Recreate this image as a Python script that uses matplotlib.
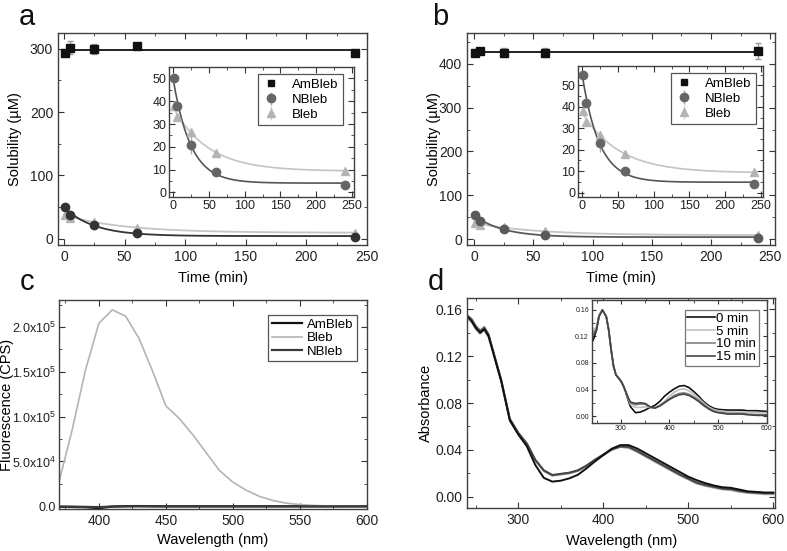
import numpy as np
import matplotlib
matplotlib.use("Agg")
import matplotlib.pyplot as plt
from matplotlib.ticker import MultipleLocator, FixedLocator, FixedFormatter

plt.rcParams['font.family'] = ['Liberation Sans', 'DejaVu Sans']
plt.rcParams['mathtext.default'] = 'regular'
plt.rcParams['axes.edgecolor'] = '#404040'
plt.rcParams['axes.linewidth'] = 1.0

# ---- panel a / b : solubility vs time ----
t = np.array([1, 5, 25, 60, 240])

a_am = np.array([293, 302, 300, 305, 293])
a_am_err = np.array([4, 10, 8, 3, 3])
a_nb = np.array([50, 38, 21, 9, 3.3])
a_nb_err = np.array([1, 1.5, 4, 1.5, 0.5])
a_bl = np.array([38, 33, 26.5, 17.5, 9.5])
a_bl_err = np.array([2, 1, 1.5, 1, 0.5])

b_am = np.array([425, 430, 425, 425, 428])
b_am_err = np.array([5, 3, 10, 10, 18])
b_nb = np.array([55, 42, 23, 10, 4])
b_nb_err = np.array([1, 1, 4, 2, 0.5])
b_bl = np.array([38, 33, 27, 18, 9.5])
b_bl_err = np.array([2, 1, 1.5, 1, 0.5])

# ---- panel c : fluorescence ----
wl_c = np.arange(370, 601, 10)
c_bleb = np.array([2.6e4, 8.5e4, 1.52e5, 2.04e5, 2.19e5, 2.12e5, 1.87e5, 1.51e5,
                   1.12e5, 9.8e4, 8.0e4, 6.0e4, 4.0e4, 2.7e4, 1.8e4, 1.1e4,
                   6.5e3, 3.5e3, 2.0e3, 1.0e3, 500, 200, 100, 0])
c_am = np.array([-500, -700, -1000, -2000, -300, 200, 300, 100, 0, 0, 0, 0,
                 0, 0, 0, 0, 0, 0, 0, 0, 0, 0, 0, 0])
c_nb = np.array([-300, -400, -600, -900, -200, -100, 0, 0, 0, 0, 0, 0,
                 0, 0, 0, 0, 0, 0, 0, 0, 0, 0, 0, 0])

# ---- panel d : absorbance (main) ----
wl_d = np.array([240, 245, 250, 255, 260, 265, 270, 280, 290, 300, 310, 320,
                 330, 340, 350, 360, 370, 380, 390, 400, 410, 420, 430, 440,
                 450, 460, 470, 480, 490, 500, 510, 520, 530, 540, 550, 560,
                 570, 580, 590, 600])
d_base = np.array([0.154, 0.151, 0.145, 0.141, 0.144, 0.138, 0.125, 0.099,
                   0.066, 0.054, 0.045, 0.031, 0.022, 0.018, 0.019, 0.020,
                   0.022, 0.026, 0.031, 0.0355, 0.040, 0.0425, 0.0425, 0.039,
                   0.035, 0.031, 0.027, 0.023, 0.019, 0.0155, 0.012, 0.010,
                   0.0085, 0.007, 0.0065, 0.005, 0.004, 0.0035, 0.003, 0.003])
d_0min = np.array([0.154, 0.150, 0.144, 0.140, 0.143, 0.137, 0.124, 0.098,
                   0.065, 0.053, 0.043, 0.027, 0.016, 0.0128, 0.0136, 0.0156,
                   0.0186, 0.024, 0.030, 0.0355, 0.041, 0.044, 0.044, 0.041,
                   0.037, 0.033, 0.029, 0.025, 0.021, 0.017, 0.014, 0.0115,
                   0.0095, 0.008, 0.0075, 0.006, 0.0045, 0.004, 0.0035, 0.0035])
d_5min = d_base - np.array([0.002] * 6 + [0.0] * 16 + [0.001] * 18)
d_10min = d_base + np.array([0.001] * 6 + [0.0] * 16 + [-0.0005] * 18)
d_15min = d_base + np.array([0.0] * 6 + [0.0005] * 16 + [0.0] * 18)

# ---- panel d : absorbance (inset) ----
wl_i = np.array([240, 245, 250, 255, 262, 270, 275, 280, 285, 290, 300, 305,
                 310, 315, 320, 330, 340, 350, 360, 370, 380, 390, 400, 410,
                 420, 430, 440, 450, 460, 470, 480, 490, 500, 520, 550, 560,
                 580, 600])
i_0min = np.array([0.110, 0.118, 0.130, 0.150, 0.160, 0.150, 0.130, 0.100,
                   0.075, 0.062, 0.053, 0.046, 0.036, 0.024, 0.014, 0.005,
                   0.006, 0.009, 0.013, 0.016, 0.022, 0.030, 0.036, 0.041,
                   0.045, 0.046, 0.043, 0.037, 0.030, 0.022, 0.016, 0.012,
                   0.010, 0.009, 0.009, 0.008, 0.008, 0.007])
i_5min = np.array([0.135, 0.130, 0.135, 0.152, 0.160, 0.150, 0.130, 0.100,
                   0.075, 0.062, 0.053, 0.046, 0.037, 0.026, 0.018, 0.013,
                   0.013, 0.014, 0.013, 0.012, 0.016, 0.022, 0.030, 0.036,
                   0.040, 0.041, 0.038, 0.033, 0.027, 0.020, 0.014, 0.010,
                   0.008, 0.006, 0.006, 0.006, 0.005, 0.005])
i_10min = np.array([0.130, 0.126, 0.132, 0.151, 0.160, 0.150, 0.130, 0.100,
                    0.075, 0.062, 0.053, 0.046, 0.037, 0.027, 0.020, 0.017,
                    0.018, 0.018, 0.013, 0.012, 0.016, 0.021, 0.026, 0.031,
                    0.034, 0.035, 0.033, 0.029, 0.024, 0.018, 0.012, 0.008,
                    0.006, 0.004, 0.004, 0.003, 0.002, 0.002])
i_15min = np.array([0.125, 0.122, 0.130, 0.150, 0.160, 0.150, 0.130, 0.100,
                    0.075, 0.062, 0.053, 0.046, 0.037, 0.028, 0.021, 0.019,
                    0.020, 0.019, 0.014, 0.012, 0.015, 0.020, 0.025, 0.029,
                    0.032, 0.033, 0.031, 0.027, 0.022, 0.016, 0.011, 0.007,
                    0.005, 0.003, 0.003, 0.002, 0.001, 0.001])

BLACK = '#111111'
NB_DARK = '#333333'
NB_MID = '#666666'
BL = '#b4b4b4'
BL_LINE = '#c4c4c4'


def exp_fit(x, y):
    # y = c + a*exp(-x/tau); scan tau, linear least squares for a and c
    best = None
    for tau in np.linspace(3, 150, 1000):
        M = np.column_stack([np.ones_like(x, dtype=float), np.exp(-x / tau)])
        coef, res, *_ = np.linalg.lstsq(M, y, rcond=None)
        r = np.sum((M @ coef - y) ** 2)
        if best is None or r < best[0]:
            best = (r, coef, tau)
    _, (c, a), tau = best
    xx = np.linspace(0, 240, 300)
    return xx, c + a * np.exp(-xx / tau)


def style(ax, size=10):
    ax.tick_params(which='both', direction='in', top=True, right=True,
                   labelsize=size, colors='#333333', labelcolor='#222222')
    ax.tick_params(which='major', length=4)
    ax.tick_params(which='minor', length=2)


def solubility(ax, am, am_err, nb, nb_err, bl, bl_err, nb_col, ylim, ymaj):
    ax.errorbar(t, bl, yerr=bl_err, fmt='^', color=BL, ms=6, ecolor=BL,
                capsize=0, elinewidth=1, zorder=3)
    ax.errorbar(t, nb, yerr=nb_err, fmt='o', color=nb_col, ms=6, ecolor=nb_col,
                capsize=0, elinewidth=1, zorder=4)
    ax.errorbar(t, am, yerr=am_err, fmt='s', color=BLACK, ms=6,
                ecolor='#999999', capsize=2, elinewidth=1, zorder=5)
    xx, yy = exp_fit(t, bl)
    ax.plot(xx, yy, color=BL_LINE, lw=1.3, zorder=2)
    xx, yy = exp_fit(t, nb)
    ax.plot(xx, yy, color=nb_col, lw=1.3, zorder=2)
    ax.plot([0, 240], [am.mean(), am.mean()], color=BLACK, lw=1.3, zorder=2)
    ax.set_ylim(*ylim)
    ax.xaxis.set_major_locator(MultipleLocator(50))
    ax.xaxis.set_minor_locator(MultipleLocator(25))
    ax.yaxis.set_major_locator(MultipleLocator(ymaj))
    ax.yaxis.set_minor_locator(MultipleLocator(ymaj / 2))
    ax.set_xlabel('Time (min)', fontsize=10.5)
    ax.set_ylabel('Solubility (\u00b5M)', fontsize=10.5)
    ax.xaxis.set_label_coords(0.5, -0.122)
    style(ax)


def inset_sol(fig, rect, nb, nb_err, bl, bl_err, ylim, anchor):
    ax = fig.add_axes(rect)
    ax.errorbar(t, bl, yerr=bl_err, fmt='^', color=BL, ms=6, ecolor='#d0d0d0',
                capsize=0, elinewidth=1, zorder=3, label='Bleb')
    ax.errorbar(t, nb, yerr=nb_err, fmt='o', color=NB_MID, ms=6,
                ecolor='#aaaaaa', capsize=0, elinewidth=1, zorder=4,
                label='NBleb')
    xx, yy = exp_fit(t, bl)
    ax.plot(xx, yy, color=BL_LINE, lw=1.2, zorder=2)
    xx, yy = exp_fit(t, nb)
    ax.plot(xx, yy, color='#555555', lw=1.2, zorder=2)
    ax.plot([], [], 's', color=BLACK, ms=5, label='AmBleb')
    ax.set_xlim(-6, 253)
    ax.set_ylim(*ylim)
    ax.xaxis.set_major_locator(MultipleLocator(50))
    ax.xaxis.set_minor_locator(MultipleLocator(25))
    ax.yaxis.set_major_locator(MultipleLocator(10))
    ax.yaxis.set_minor_locator(MultipleLocator(5))
    style(ax, 9)
    ax.tick_params(pad=2)
    h, l = ax.get_legend_handles_labels()
    order = [l.index('AmBleb'), l.index('NBleb'), l.index('Bleb')]
    leg = ax.legend([h[i] for i in order], [l[i] for i in order],
                    loc='upper right', fontsize=9.5, fancybox=False,
                    framealpha=1, edgecolor='#555555', handlelength=1.2,
                    handletextpad=1.0, borderpad=0.35, labelspacing=0.2,
                    borderaxespad=0, bbox_to_anchor=anchor)
    leg.get_frame().set_linewidth(0.9)
    return ax


fig = plt.figure(figsize=(7.87, 5.51), dpi=100)

# panel a
ax_a = fig.add_axes([0.0737, 0.5554, 0.3926, 0.3848])
solubility(ax_a, a_am, a_am_err, a_nb, a_nb_err, a_bl, a_bl_err, NB_DARK,
           (-10, 325), 100)
ax_a.set_xlim(-5, 250)
ax_a.yaxis.set_label_coords(-0.118, 0.5)
inset_sol(fig, [0.2147, 0.6425, 0.2351, 0.2359], a_nb, a_nb_err, a_bl,
          a_bl_err, (-2, 55), (0.94, 0.946))

# panel b
ax_b = fig.add_axes([0.5934, 0.5554, 0.3914, 0.3848])
solubility(ax_b, b_am, b_am_err, b_nb, b_nb_err, b_bl, b_bl_err, '#5a5a5a',
           (-13, 470), 100)
ax_b.set_xlim(-6, 254)
ax_b.yaxis.set_label_coords(-0.086, 0.5)
inset_sol(fig, [0.7344, 0.6425, 0.2351, 0.2377], b_nb, b_nb_err, b_bl,
          b_bl_err, (-2, 59), (0.962, 0.947))

# panel c
ax_c = fig.add_axes([0.0746, 0.0762, 0.3914, 0.3793])
ax_c.plot(wl_c, c_am, color=BLACK, lw=1.6, label='AmBleb')
ax_c.plot(wl_c, c_bleb, color=BL, lw=1.2, label='Bleb')
ax_c.plot(wl_c, c_nb, color='#3a3a3a', lw=1.6, label='NBleb')
ax_c.set_xlim(370, 600)
ax_c.set_ylim(-3000, 2.3e5)
ax_c.xaxis.set_major_locator(MultipleLocator(50))
ax_c.xaxis.set_minor_locator(MultipleLocator(25))
c_ticks = [0, 5e4, 1e5, 1.5e5, 2e5]
c_labels = ['0.0', r'5.0x10$^{4}$', r'1.0x10$^{5}$', r'1.5x10$^{5}$',
            r'2.0x10$^{5}$']
ax_c.yaxis.set_major_locator(FixedLocator(c_ticks))
ax_c.yaxis.set_major_formatter(FixedFormatter(c_labels))
ax_c.yaxis.set_minor_locator(MultipleLocator(2.5e4))
ax_c.set_xlabel('Wavelength (nm)', fontsize=10.5)
ax_c.set_ylabel('Fluorescence (CPS)', fontsize=10.5)
ax_c.xaxis.set_label_coords(0.5, -0.115)
ax_c.yaxis.set_label_coords(-0.145, 0.5)
style(ax_c, 10)
ax_c.tick_params(axis='y', pad=2, labelsize=9)
leg = ax_c.legend(loc='upper right', fontsize=9.5, fancybox=False,
                  framealpha=1, edgecolor='#555555', handlelength=2.3,
                  handletextpad=0.4, borderpad=0.25, labelspacing=0.1,
                  borderaxespad=0, bbox_to_anchor=(0.968, 0.928))
leg.get_frame().set_linewidth(0.9)

# panel d
d_cols = ['#111111', '#c0c0c0', '#808080', '#444444']
ax_d = fig.add_axes([0.5938, 0.0775, 0.3910, 0.3822])
for y, c in zip([d_5min, d_10min, d_15min, d_0min], d_cols[1:] + d_cols[:1]):
    ax_d.plot(wl_d, y, color=c, lw=1.4)
ax_d.set_xlim(240, 602)
ax_d.set_ylim(-0.01, 0.17)
ax_d.xaxis.set_major_locator(MultipleLocator(100))
ax_d.xaxis.set_minor_locator(MultipleLocator(50))
ax_d.yaxis.set_major_locator(MultipleLocator(0.04))
ax_d.yaxis.set_minor_locator(MultipleLocator(0.02))
ax_d.yaxis.set_major_formatter(matplotlib.ticker.FormatStrFormatter('%.2f'))
ax_d.set_xlabel('Wavelength (nm)', fontsize=10.5)
ax_d.set_ylabel('Absorbance', fontsize=10.5)
ax_d.xaxis.set_label_coords(0.5, -0.122)
ax_d.yaxis.set_label_coords(-0.113, 0.5)
style(ax_d)

ax_di = fig.add_axes([0.7518, 0.2329, 0.2224, 0.2227])
names = ['0 min', '5 min', '10 min', '15 min']
for y, c, n in zip([i_0min, i_5min, i_10min, i_15min], d_cols, names):
    ax_di.plot(wl_i, y, color=c, lw=1.2, label=n)
ax_di.set_xlim(240, 600)
ax_di.set_ylim(-0.01, 0.175)
ax_di.xaxis.set_major_locator(MultipleLocator(100))
ax_di.xaxis.set_minor_locator(MultipleLocator(50))
ax_di.yaxis.set_major_locator(MultipleLocator(0.04))
ax_di.yaxis.set_minor_locator(MultipleLocator(0.02))
ax_di.yaxis.set_major_formatter(matplotlib.ticker.FormatStrFormatter('%.2f'))
style(ax_di, 5)
ax_di.tick_params(pad=2, which='major', length=3)
leg = ax_di.legend(loc='upper right', fontsize=9.5, fancybox=False,
                   framealpha=1, edgecolor='#777777', handlelength=2.1,
                   handletextpad=0.1, borderpad=0.2, labelspacing=0.05,
                   borderaxespad=0, bbox_to_anchor=(0.956, 0.92))
leg.get_frame().set_linewidth(0.9)

# panel letters
for x, y, s in [(0.034, 0.955, 'a'), (0.559, 0.955, 'b'),
                (0.035, 0.474, 'c'), (0.554, 0.474, 'd')]:
    fig.text(x, y, s, fontsize=21, va='baseline', ha='center', color='#111111')

fig.savefig('out.png', dpi=100)
